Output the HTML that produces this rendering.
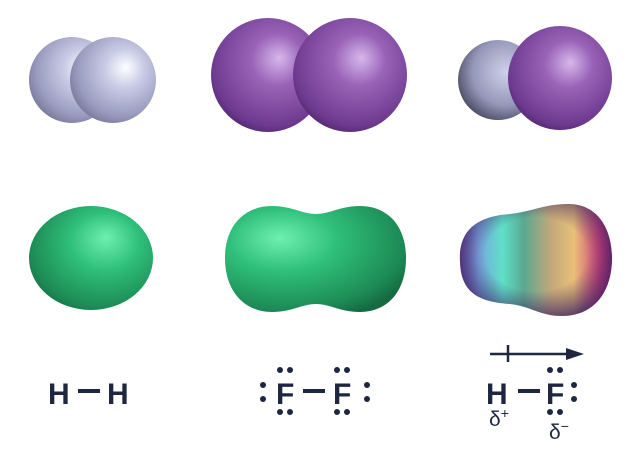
<!DOCTYPE html>
<html><head><meta charset="utf-8"><style>
html,body{margin:0;padding:0;background:#fff;width:642px;height:450px;overflow:hidden}
svg{display:block}
text{font-family:"Liberation Sans","DejaVu Sans",sans-serif;fill:#1f2640}
</style></head><body>
<svg width="642" height="450" viewBox="0 0 642 450">
<defs>
<radialGradient id="hG" cx="0.6" cy="0.4" r="0.65" fx="0.65" fy="0.35">
<stop offset="0" stop-color="#ffffff"/><stop offset="0.35" stop-color="#c9cbe6"/><stop offset="0.8" stop-color="#9a9cbf"/><stop offset="1" stop-color="#7a7b9a"/></radialGradient>
<radialGradient id="hGdark" cx="0.6" cy="0.4" r="0.7">
<stop offset="0" stop-color="#cfd1ea"/><stop offset="0.6" stop-color="#9597b8"/><stop offset="1" stop-color="#3c3d55"/></radialGradient>
<radialGradient id="fG" cx="0.55" cy="0.4" r="0.65" fx="0.6" fy="0.35">
<stop offset="0" stop-color="#d7b8ea"/><stop offset="0.35" stop-color="#9a63b8"/><stop offset="0.85" stop-color="#6e3a90"/><stop offset="1" stop-color="#4c2468"/></radialGradient>
<radialGradient id="gG" cx="0.6" cy="0.4" r="0.7" fx="0.62" fy="0.3">
<stop offset="0" stop-color="#6ff0b0"/><stop offset="0.4" stop-color="#2fbf7a"/><stop offset="0.85" stop-color="#1d8a55"/><stop offset="1" stop-color="#146b40"/></radialGradient>
<radialGradient id="gG2" cx="0.35" cy="0.35" r="0.75" fx="0.3" fy="0.3">
<stop offset="0" stop-color="#6ff0b0"/><stop offset="0.4" stop-color="#2fbf7a"/><stop offset="0.85" stop-color="#1d8a55"/><stop offset="1" stop-color="#146b40"/></radialGradient>
<linearGradient id="espG" x1="0" y1="0" x2="1" y2="0">
<stop offset="0" stop-color="#6a4aa0"/><stop offset="0.12" stop-color="#7aa6e0"/><stop offset="0.28" stop-color="#5ee0c8"/><stop offset="0.42" stop-color="#5aa890"/><stop offset="0.6" stop-color="#c4a87a"/><stop offset="0.75" stop-color="#e8c078"/><stop offset="0.92" stop-color="#d0407a"/><stop offset="1" stop-color="#8a2a70"/></linearGradient>
<radialGradient id="espShade" cx="0.5" cy="0.45" r="0.6">
<stop offset="0.55" stop-color="#3a1e60" stop-opacity="0"/><stop offset="1" stop-color="#3a1e60" stop-opacity="0.8"/></radialGradient>
</defs>

<g>
<circle cx="72" cy="80" r="43" fill="url(#hG)"/>
<circle cx="113" cy="80" r="43" fill="url(#hG)"/>
</g>
<g>
<circle cx="268" cy="75" r="57" fill="url(#fG)"/>
<circle cx="350" cy="75" r="57" fill="url(#fG)"/>
</g>
<g>
<circle cx="498" cy="80" r="40" fill="url(#hGdark)"/>
<circle cx="560" cy="78" r="52" fill="url(#fG)"/>
</g>

<ellipse cx="91" cy="258" rx="62" ry="52" fill="url(#gG)"/>
<path d="M225 258 C225 225 245 206 272 206 C292 206 302 214 316 214 C330 214 340 206 360 206 C387 206 406 225 406 258 C406 292 387 312 360 312 C340 312 330 304 316 304 C302 304 292 312 272 312 C245 312 225 292 225 258 Z" fill="url(#gG2)"/>
<g>
<path d="M460 262 C458 228 480 216 510 214 C530 212 545 204 568 204 C600 204 612 232 612 258 C612 292 594 316 562 316 C540 316 530 306 510 304 C478 302 461 292 460 262 Z" fill="url(#espG)"/>
<path d="M460 262 C458 228 480 216 510 214 C530 212 545 204 568 204 C600 204 612 232 612 258 C612 292 594 316 562 316 C540 316 530 306 510 304 C478 302 461 292 460 262 Z" fill="url(#espShade)"/>
</g>

<g font-weight="bold" font-size="30">
<text x="48" y="404">H</text><rect x="78" y="389" width="22" height="4" fill="#1f2640"/><text x="107" y="404">H</text>
</g>
<g font-weight="bold" font-size="30" fill="#1f2640">
<text x="276" y="404">F</text><rect x="303" y="389" width="22" height="4"/><text x="333" y="404">F</text>
<circle cx="263" cy="385" r="3"/><circle cx="263" cy="399" r="3"/>
<circle cx="367" cy="385" r="3"/><circle cx="367" cy="399" r="3"/>
<circle cx="280" cy="370" r="3"/><circle cx="290" cy="370" r="3"/><circle cx="280" cy="412" r="3"/><circle cx="290" cy="412" r="3"/>
<circle cx="337" cy="370" r="3"/><circle cx="347" cy="370" r="3"/><circle cx="337" cy="412" r="3"/><circle cx="347" cy="412" r="3"/>
</g>
<g font-weight="bold" font-size="30" fill="#1f2640">
<text x="486" y="404">H</text><rect x="518" y="389" width="22" height="4"/><text x="546" y="404">F</text>
<circle cx="574" cy="385" r="3"/><circle cx="574" cy="399" r="3"/>
<circle cx="550" cy="370" r="3"/><circle cx="560" cy="370" r="3"/><circle cx="550" cy="412" r="3"/><circle cx="560" cy="412" r="3"/>
</g>
<g>
<line x1="490" y1="354" x2="570" y2="354" stroke="#1f2640" stroke-width="2.5"/>
<line x1="508" y1="345" x2="508" y2="362" stroke="#1f2640" stroke-width="2.5"/>
<polygon points="566,348 584,354 566,360" fill="#1f2640"/>
</g>
<text x="489" y="426" font-size="21">δ<tspan font-size="14" dy="-8">+</tspan></text>
<text x="549" y="439" font-size="21">δ<tspan font-size="14" dy="-8">−</tspan></text>
</svg>
</body></html>
